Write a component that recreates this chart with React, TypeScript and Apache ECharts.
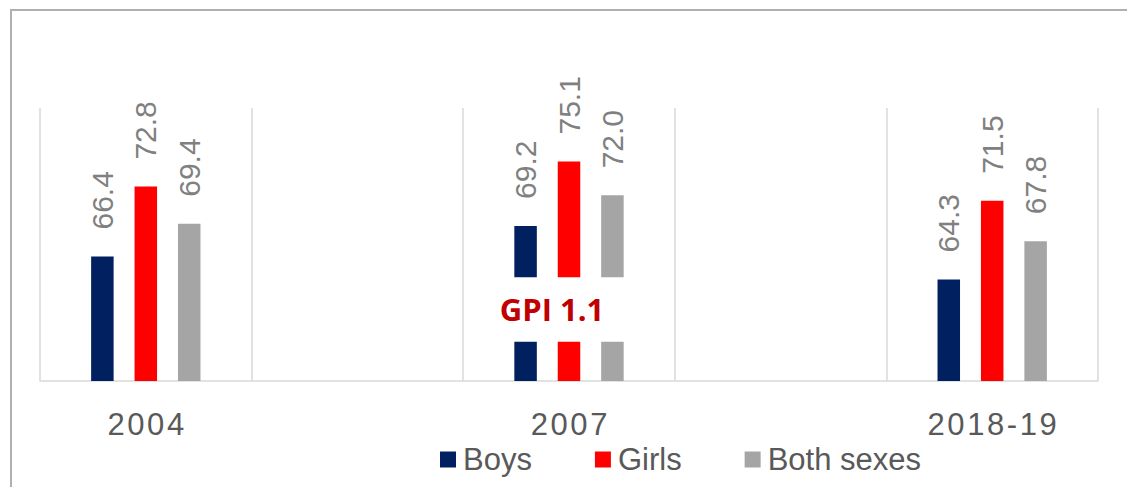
import React, { useEffect, useRef } from "react";
import * as echarts from "echarts";

const categories = ["2004", "2007", "2018-19"];
const boys = [66.4, 69.2, 64.3];
const girls = [72.8, 75.1, 71.5];
const bothSexes = [69.4, 72.0, 67.8];
const seriesNames = ["Boys", "Girls", "Both sexes"];
const seriesColors = ["#002060", "#ff0000", "#a5a5a5"];
const gpiText = "GPI 1.1";
const gpiCategory = "2007";
const gpiBandLow = 58.6;
const gpiBandHigh = 64.5;
const yMin = 55;
const yMax = 80;

// interleave empty slots between the categories (as in the original layout)
function withGaps<T>(arr: T[], blank: T): T[] {
  const out: T[] = [];
  arr.forEach((v, i) => {
    out.push(v);
    if (i < arr.length - 1) out.push(blank);
  });
  return out;
}

const FONT = "'Liberation Sans', Arial, sans-serif";

export default function App() {
  const ref = useRef<HTMLDivElement>(null);
  useEffect(() => {
    if (!ref.current) return;
    const chart = echarts.init(ref.current, undefined, { renderer: "svg" });
    const axisCats = withGaps(categories, "");
    const datas = [boys, girls, bothSexes];
    chart.setOption({
      animation: false,
      backgroundColor: "#ffffff",
      grid: { left: 40, right: 29, top: 108, bottom: 106 },
      xAxis: {
        type: "category",
        data: axisCats,
        axisLine: { show: true, lineStyle: { color: "#d9d9d9", width: 1.5 } },
        axisTick: { show: false },
        splitLine: { show: true, lineStyle: { color: "#d9d9d9", width: 1.5 } },
        axisLabel: {
          interval: 0,
          margin: 28,
          color: "#595959",
          fontSize: 31,
          fontFamily: FONT,
          formatter: (v: string) => v.split("").join("\u200A"),
        },
      },
      yAxis: {
        type: "value",
        min: yMin,
        max: yMax,
        show: false,
        splitLine: { show: false },
      },
      legend: {
        left: 440,
        top: 444,
        padding: 0,
        itemWidth: 16,
        itemHeight: 16,
        itemGap: 63,
        icon: "rect",
        data: seriesNames,
        textStyle: {
          color: "#595959",
          fontSize: 31,
          fontFamily: FONT,
          padding: [0, 0, 0, 2],
        },
      },
      series: seriesNames.map((name, i) => ({
        name,
        type: "bar",
        data: withGaps<number | null>(datas[i], null),
        barWidth: 22.5,
        barGap: "93%",
        itemStyle: { color: seriesColors[i] },
        label: {
          show: true,
          position: "top",
          rotate: 90,
          align: "left",
          verticalAlign: "middle",
          distance: 27,
          color: "#808080",
          fontSize: 30,
          fontFamily: FONT,
          formatter: (p: any) => (p.value == null ? "" : Number(p.value).toFixed(1)),
        },
      })),
    });

    const idx = axisCats.indexOf(gpiCategory);
    const cx = chart.convertToPixel({ xAxisIndex: 0 }, idx) as number;
    const yHigh = chart.convertToPixel({ yAxisIndex: 0 }, gpiBandHigh) as number;
    const yLow = chart.convertToPixel({ yAxisIndex: 0 }, gpiBandLow) as number;
    chart.setOption({
      graphic: [
        {
          type: "rect",
          z: 100,
          shape: { x: cx - 80, y: yHigh, width: 160, height: yLow - yHigh },
          style: { fill: "#ffffff" },
        },
        {
          type: "text",
          z: 101,
          x: cx - 17,
          y: (yHigh + yLow) / 2,
          style: {
            text: gpiText,
            fill: "#c00000",
            font: "bold 31px 'Open Sans', sans-serif",
            textAlign: "center",
            textVerticalAlign: "middle",
          },
        },
        {
          type: "rect",
          z: 102,
          silent: true,
          shape: { x: 11, y: 10, width: 1300, height: 700 },
          style: { fill: "none", stroke: "#b0b0b0", lineWidth: 2 },
        },
      ],
    });

    return () => chart.dispose();
  }, []);
  return (
    <div
      ref={ref}
      style={{ position: "fixed", left: 0, top: 0, width: 1127, height: 487 }}
    />
  );
}
